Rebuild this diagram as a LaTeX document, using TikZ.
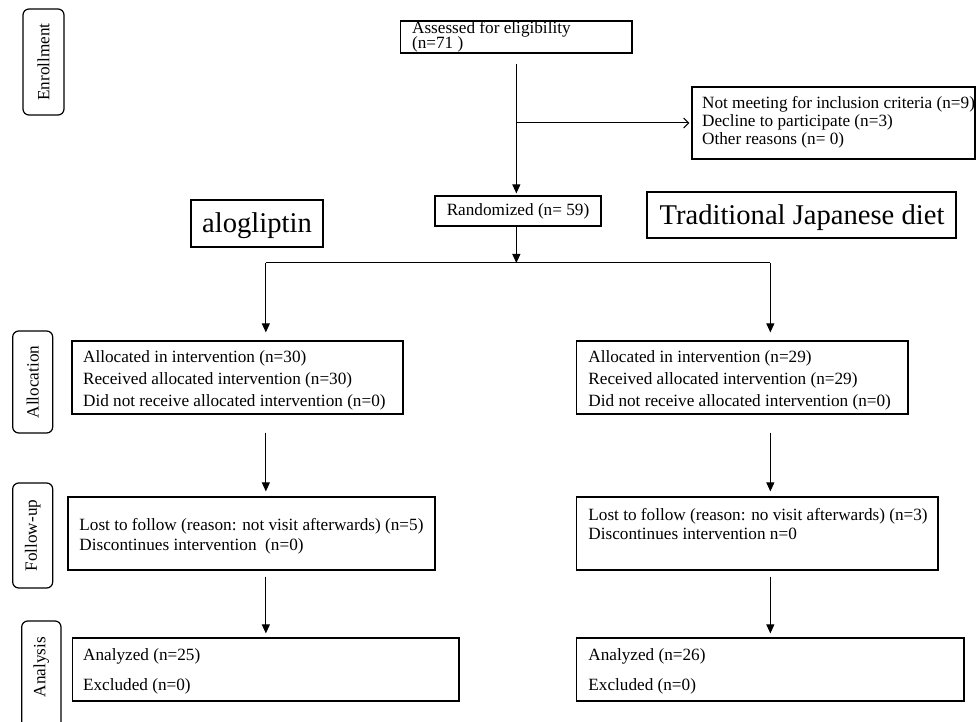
\documentclass[tikz,border=0pt]{standalone}
\usepackage{fontspec}
\setmainfont{Liberation Serif}
\usetikzlibrary{arrows.meta,fit,calc}
\begin{document}
\begin{tikzpicture}[x=0.5pt,y=-0.5pt,
  box/.style={draw, line width=0.6pt, inner sep=0pt},
  lbl/.style={draw, line width=0.6pt, inner sep=0pt, rounded corners=3pt},
  txt/.style={anchor=base west, inner sep=0pt, font=\fontsize{8.6}{10}\selectfont},
  ctxt/.style={anchor=base, inner sep=0pt, font=\fontsize{8.6}{10}\selectfont},
  big/.style={anchor=base, inner sep=0pt, font=\fontsize{14.3}{17}\selectfont},
  side/.style={rotate=90, inner sep=0pt, font=\fontsize{8.6}{10}\selectfont},
  arr/.style={line width=0.5pt, -{Triangle[length=4.5pt,width=4pt]}},
  oarr/.style={line width=0.5pt, -{Straight Barb[length=2.5pt,width=5pt]}},
  ln/.style={line width=0.5pt}]
\useasboundingbox (0,0) rectangle (976,722);
\clip (0,0) rectangle (976,722);
% corner coordinates
\coordinate (c1) at (400.7,21);  \coordinate (c2) at (632,53);
\coordinate (c3) at (692,87);    \coordinate (c4) at (975,159);
\coordinate (c5) at (435,196);   \coordinate (c6) at (601,226);
\coordinate (c7) at (191,200);   \coordinate (c8) at (323,247);
\coordinate (c9) at (647,192);   \coordinate (c10) at (956,238);
\coordinate (c11) at (72,341);   \coordinate (c12) at (403,414);
\coordinate (c13) at (576.7,341);\coordinate (c14) at (908,414);
\coordinate (c15) at (68,497);   \coordinate (c16) at (435,570);
\coordinate (c17) at (576.7,497);\coordinate (c18) at (938,570);
\coordinate (c19) at (72.7,638); \coordinate (c20) at (459,701);
\coordinate (c21) at (576.7,638);\coordinate (c22) at (964,701);
\coordinate (l1) at (23,9);      \coordinate (l2) at (64,115);
\coordinate (l3) at (12.7,331);  \coordinate (l4) at (52.7,433);
\coordinate (l5) at (12.7,483);  \coordinate (l6) at (52.7,588);
\coordinate (l7) at (21.7,621);  \coordinate (l8) at (61,760);
% boxes
\node[box, fit=(c1)(c2)] (assess) {};
\node[box, fit=(c3)(c4)] (excl) {};
\node[box, fit=(c5)(c6)] (rand) {};
\node[box, fit=(c7)(c8)] (alog) {};
\node[box, fit=(c9)(c10)] (trad) {};
\node[box, fit=(c11)(c12)] (allocL) {};
\node[box, fit=(c13)(c14)] (allocR) {};
\node[box, fit=(c15)(c16)] (fuL) {};
\node[box, fit=(c17)(c18)] (fuR) {};
\node[box, fit=(c19)(c20)] (anaL) {};
\node[box, fit=(c21)(c22)] (anaR) {};
% stage labels
\node[lbl, fit=(l1)(l2)] (enr) {};
\node[lbl, fit=(l3)(l4)] (alc) {};
\node[lbl, fit=(l5)(l6)] (fol) {};
\node[lbl, fit=(l7)(l8)] (ana) {};
\node[side] at (enr.center) {Enrollment};
\node[side] at (alc.center) {Allocation};
\node[side] at (fol.center) {Follow-up};
\node[side] at (41.3,667) {Analysis};
% texts
\node[txt] at (411.7,33.3) {Assessed for eligibility};
\node[txt] at (411.7,48.5) {(n=71 )};
\node[txt] at (701.7,109) {Not meeting for inclusion criteria (n=9)};
\node[txt] at (701.7,127) {Decline to participate (n=3)};
\node[txt] at (701.7,145) {Other reasons (n= 0)};
\node[ctxt] at (518,216) {Randomized (n= 59)};
\node[big] at (257,233) {alogliptin};
\node[big] at (802,225) {Traditional Japanese diet};
\node[txt] at (82.7,363) {Allocated in intervention (n=30)};
\node[txt] at (82.7,384) {Received allocated intervention (n=30)};
\node[txt] at (82.7,406) {Did not receive allocated intervention (n=0)};
\node[txt] at (588,363) {Allocated in intervention (n=29)};
\node[txt] at (588,384) {Received allocated intervention (n=29)};
\node[txt] at (588,406) {Did not receive allocated intervention (n=0)};
\node[txt] at (79,530) {Lost to follow (reason: not visit afterwards) (n=5)};
\node[txt] at (79,550) {Discontinues intervention\ \ (n=0)};
\node[txt] at (588,520) {Lost to follow (reason: no visit afterwards) (n=3)};
\node[txt] at (588,539) {Discontinues intervention n=0};
\node[txt] at (82.7,660) {Analyzed (n=25)};
\node[txt] at (82.7,690.7) {Excluded (n=0)};
\node[txt] at (588,660) {Analyzed (n=26)};
\node[txt] at (588,690) {Excluded (n=0)};
% connectors
\coordinate (trunk) at ($(assess.south)+(0,10)$);
\draw[arr, shorten >=1pt] (trunk) -- (trunk |- rand.north);
\draw[oarr, shorten >=1pt] (trunk |- excl.west) -- (excl.west);
\coordinate (br) at (518,263);
\draw[arr] (rand.south -| trunk) -- (trunk |- br);
\draw[ln] (anaL.north |- br) -- (anaR.north |- br);
\draw[arr] (anaL.north |- br) -- ($(anaL.north |- allocL.north)+(0,-8)$);
\draw[arr] (anaR.north |- br) -- ($(anaR.north |- allocR.north)+(0,-8)$);
\draw[arr] ($(anaL.north |- allocL.south)+(0,18)$) -- ($(anaL.north |- fuL.north)+(0,-5)$);
\draw[arr] ($(anaR.north |- allocR.south)+(0,18)$) -- ($(anaR.north |- fuR.north)+(0,-5)$);
\draw[arr] ($(anaL.north |- fuL.south)+(0,6)$) -- ($(anaL.north)+(0,-4)$);
\draw[arr] ($(anaR.north |- fuR.south)+(0,6)$) -- ($(anaR.north)+(0,-4)$);
\end{tikzpicture}
\end{document}
